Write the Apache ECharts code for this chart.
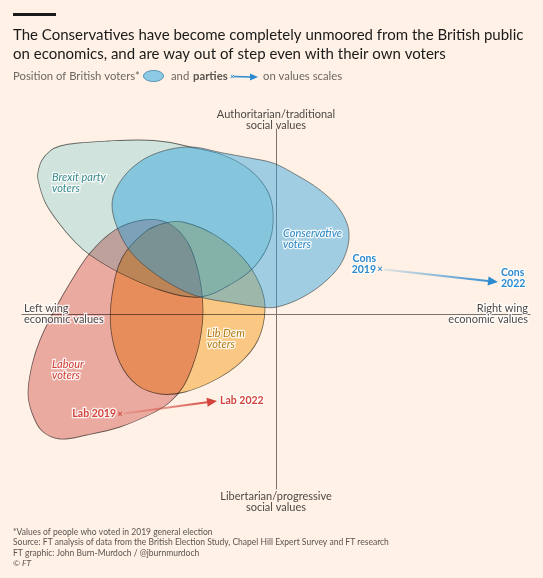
<!DOCTYPE html>
<html>
<head>
<meta charset="utf-8">
<script src="https://cdn.jsdelivr.net/npm/echarts@6/dist/echarts.min.js"></script>
<style>
html, body { margin: 0; padding: 0; background: #fff1e5; }
#chart { width: 543px; height: 578px; }
</style>
</head>
<body>
<div id="chart"></div>
<script>
// outlines of each group of voters, x = economic (left -> right), y = social (libertarian -> authoritarian)
var brexitVoters = [
    [-23.8, 14.2], [-23.4, 15.4], [-22.6, 16.3], [-21.6, 16.8], [-19.8, 17.1], [-16.8, 17.3],
    [-13.6, 17.4], [-10.9, 17.2], [-8.6, 16.7], [-5.3, 15.9], [-2.6, 14.4], [-0.9, 12.4],
    [-0.3, 10.2], [-0.6, 7.4], [-2.1, 4.8], [-4.3, 3.1], [-7.6, 1.7], [-11.6, 2.4],
    [-15.6, 4.1], [-18.6, 5.9], [-20.1, 7.2], [-21.8, 9.2], [-23.1, 11.2], [-23.8, 13.4]
];
var conVoters = [
    [-8.6, 16.7], [-5.3, 16.1], [-2.6, 15.6], [-0.3, 15.1], [1.7, 14.1], [4.4, 12.4],
    [6.4, 10.4], [7.3, 8.1], [6.7, 5.4], [5.1, 3.4], [2.7, 1.7], [0.1, 0.7],
    [-1.6, 0.7], [-4.3, 1.1], [-7.6, 1.7], [-10.0, 2.7], [-12.6, 4.4], [-14.6, 6.3],
    [-15.9, 8.7], [-16.4, 10.9], [-15.9, 12.7], [-14.3, 14.7], [-11.9, 16.1]
];
var labVoters = [
    [-13.3, 9.4], [-10.8, 9.1], [-8.8, 7.1], [-7.7, 3.9], [-7.3, 0.4], [-7.6, -2.6],
    [-8.3, -5.1], [-9.3, -7.3], [-10.6, -8.8], [-12.3, -9.9], [-15.6, -11.3], [-18.9, -12.1],
    [-21.6, -12.5], [-23.4, -11.7], [-24.4, -9.9], [-24.8, -7.9], [-24.4, -5.1], [-23.6, -2.6],
    [-22.3, 0.1], [-20.6, 3.1], [-18.6, 6.1], [-16.1, 8.4]
];
var libDemVoters = [
    [-9.3, 9.2], [-6.1, 7.9], [-3.3, 5.6], [-1.6, 2.9], [-1.1, 0.4], [-1.8, -2.6],
    [-3.6, -4.9], [-6.1, -6.6], [-9.1, -7.8], [-11.6, -8.0], [-13.9, -7.1], [-15.6, -4.9],
    [-16.5, -1.6], [-16.4, 1.9], [-15.4, 5.6], [-13.1, 8.2], [-11.1, 9.1]
];

// party positions, 2019 -> 2022
var consMove = [[10.4, 4.5], [22.2, 3.2]];
var labMove = [[-15.6, -10.0], [-5.9, -8.7]];
var consLabels = ['Cons\n2019', 'Cons\n2022'];
var labLabels = ['Lab 2019', 'Lab 2022'];

var FONT = 'Lato, "Noto Sans", sans-serif';
// these get multiplied onto the paper; the Conservative blob is a plain translucent wash
var multiplyFills = ['#ebb4b2', '#fad491', '#d0f1f7'];

function blobSeries(points, fill, z) {
    return {
        type: 'custom',
        silent: true,
        z: z,
        data: points,
        renderItem: function (params, api) {
            if (params.dataIndex !== 0) return null;
            var pts = points.map(function (p) { return api.coord(p); });
            return {
                type: 'polygon',
                shape: { points: pts, smooth: 0.35 },
                style: { fill: fill, stroke: 'rgba(60,60,60,0.75)', lineWidth: 0.8 }
            };
        }
    };
}

function moveSeries(move, labels, color, light, z) {
    return {
        type: 'custom',
        silent: true,
        z: z,
        data: move,
        renderItem: function (params, api) {
            if (params.dataIndex !== 0) return null;
            var a = api.coord(move[0]), b = api.coord(move[1]);
            var ang = Math.atan2(b[1] - a[1], b[0] - a[0]);
            var c = Math.cos(ang), s = Math.sin(ang);
            var base = [b[0] - 10 * c, b[1] - 10 * s];
            var head = [b, [base[0] + 4.5 * s, base[1] - 4.5 * c], [base[0] - 4.5 * s, base[1] + 4.5 * c]];
            var grad = new echarts.graphic.LinearGradient(a[0], a[1], b[0], b[1],
                [{ offset: 0, color: light }, { offset: 1, color: color }], true);
            var two = labels[0].indexOf('\n') >= 0;
            var txt = { fill: color, font: 'bold 10.5px ' + FONT, lineHeight: 11, stroke: 'rgba(255,255,255,0.85)', lineWidth: 2.5 };
            return {
                type: 'group',
                children: [
                    { type: 'line', shape: { x1: a[0] + 4 * c, y1: a[1] + 4 * s, x2: base[0], y2: base[1] },
                      style: { stroke: grad, lineWidth: 2 } },
                    { type: 'polygon', shape: { points: head }, style: { fill: color } },
                    { type: 'text', style: { text: '×', x: a[0], y: a[1], align: 'center', verticalAlign: 'middle',
                      fill: color, font: 'bold 9px ' + FONT } },
                    { type: 'text', style: Object.assign({ text: labels[0], x: a[0] - 4, y: two ? a[1] + 6 : a[1],
                      align: 'right', verticalAlign: two ? 'bottom' : 'middle' }, txt) },
                    { type: 'text', style: Object.assign({ text: labels[1], x: b[0] + 3, y: two ? b[1] - 4 : b[1],
                      align: 'left', verticalAlign: 'middle' }, txt) }
                ]
            };
        }
    };
}

function label(text, x, y, color, opts) {
    return {
        type: 'text', z: 50, silent: true,
        style: Object.assign({
            text: text, x: x, y: y, fill: color, font: '11px ' + FONT, lineHeight: 11.5,
            verticalAlign: 'middle'
        }, opts || {})
    };
}

var halo = { stroke: 'rgba(255,255,255,0.85)', lineWidth: 2.5 };

var chart = echarts.init(document.getElementById('chart'));
chart.setOption({
    backgroundColor: '#fff1e5',
    animation: false,
    grid: { left: 22, right: 13, top: 129, bottom: 89 },
    xAxis: {
        type: 'value', min: -25.4, max: 25.4,
        axisLine: { onZero: true, lineStyle: { color: '#7a736e', width: 1 } },
        axisTick: { show: false }, axisLabel: { show: false }, splitLine: { show: false }
    },
    yAxis: {
        type: 'value', min: -17.5, max: 18.5,
        axisLine: { onZero: true, lineStyle: { color: '#7a736e', width: 1 } },
        axisTick: { show: false }, axisLabel: { show: false }, splitLine: { show: false }
    },
    series: [
        blobSeries(labVoters, multiplyFills[0], 2),
        blobSeries(libDemVoters, multiplyFills[1], 3),
        blobSeries(brexitVoters, multiplyFills[2], 4),
        blobSeries(conVoters, 'rgba(44,161,220,0.45)', 5),
        moveSeries(consMove, consLabels, '#2b8ad0', 'rgba(43,138,208,0.1)', 10),
        moveSeries(labMove, labLabels, '#d2443b', 'rgba(210,68,59,0.15)', 10)
    ],
    graphic: [
        { type: 'rect', shape: { x: 13, y: 13, width: 43, height: 3 }, style: { fill: '#1a1a1a' } },
        label('The Conservatives have become completely unmoored from the British public', 13, 35, '#1a1a1a', { font: '15px ' + FONT }),
        label('on economics, and are way out of step even with their own voters', 13, 54, '#1a1a1a', { font: '15px ' + FONT }),
        label('Position of British voters*', 13, 76, '#6e6762', { font: '11.3px ' + FONT }),
        { type: 'ellipse', shape: { cx: 153.5, cy: 76, rx: 10, ry: 5.5 }, style: { fill: '#8ccae6', stroke: '#3b7fa5', lineWidth: 0.8 } },
        label('and', 171, 76, '#6e6762', { font: '11.3px ' + FONT }),
        label('parties', 193, 76, '#5a534f', { font: 'bold 11.3px ' + FONT }),
        label('×', 230, 76, '#2b8ad0', { font: 'bold 8px ' + FONT }),
        { type: 'line', shape: { x1: 234, y1: 76.5, x2: 251, y2: 77 }, style: { stroke: '#2b8ad0', lineWidth: 1.6 } },
        { type: 'polygon', shape: { points: [[258, 77], [250, 73.5], [250, 80.5]] }, style: { fill: '#2b8ad0' } },
        label('on values scales', 263, 76, '#6e6762', { font: '11.3px ' + FONT }),

        label('Authoritarian/traditional\nsocial values', 276, 120, '#4d4845', { align: 'center' }),
        label('Libertarian/progressive\nsocial values', 276, 502, '#4d4845', { align: 'center' }),
        label('Left wing\neconomic values', 24, 314, '#4d4845', Object.assign({}, halo)),
        label('Right wing\neconomic values', 528, 314, '#4d4845', Object.assign({ align: 'right' }, halo)),

        label('Brexit party\nvoters', 52, 183, '#3a8a8c', Object.assign({ font: 'italic 11px ' + FONT }, halo)),
        label('Conservative\nvoters', 283, 239, '#2a86c4', Object.assign({ font: 'italic 11px ' + FONT }, halo)),
        label('Lib Dem\nvoters', 207, 339, '#b07c12', Object.assign({ font: 'italic 11px ' + FONT }, halo)),
        label('Labour\nvoters', 52, 370, '#d03c32', Object.assign({ font: 'italic 11px ' + FONT }, halo)),

        label('*Values of people who voted in 2019 general election', 13, 532, '#5a5450', { font: '8.5px ' + FONT }),
        label('Source: FT analysis of data from the British Election Study, Chapel Hill Expert Survey and FT research', 13, 542.5, '#5a5450', { font: '8.5px ' + FONT }),
        label('FT graphic: John Burn-Murdoch / @jburnmurdoch', 13, 553, '#5a5450', { font: '8.5px ' + FONT }),
        label('© FT', 13, 563.5, '#5a5450', { font: 'italic 8.5px ' + FONT })
    ]
});

// Labour, Lib Dem and Brexit blobs overlap like layers of ink: multiply them onto the paper
var zr = chart.getZr();
zr.storage.getDisplayList(true).forEach(function (el) {
    if (el.type === 'polygon' && el.style && multiplyFills.indexOf(el.style.fill) >= 0) {
        el.style.blend = 'multiply';
        el.markRedraw();
    }
});
zr.refreshImmediately();
</script>
</body>
</html>
